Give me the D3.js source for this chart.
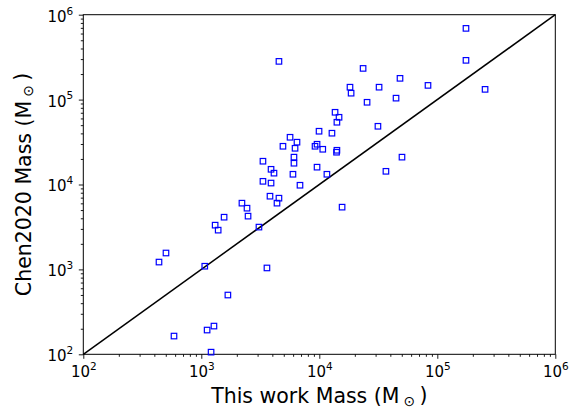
<!DOCTYPE html>
<html lang="en">
<head>
    <title>Chen2020 vs this work</title>
    <script src='https://d3js.org/d3.v7.min.js'></script>
    <style>
        body { margin: 0; background: #fff; }
        text { font-family: "DejaVu Sans", sans-serif; fill: #000; }
    </style>
</head>
<body>
    <script>
        var width = 578, height = 410;

        // masses (Msun): this work (x) and Chen2020 (y)
        var thisWorkMass = [
            4550, 175000, 175000, 254000, 23500, 48300, 83400, 18200, 18600, 32100,
            25400, 44700, 13600, 14700, 14100, 31400, 9950, 12800, 5650, 6470,
            4920, 6230, 9200, 9570, 10700, 14100, 14000, 6100, 6100, 9570,
            5980, 11600, 3330, 3900, 4130, 3330, 3900, 6860, 50200, 36700,
            3820, 4550, 4380, 15600, 2210, 2440, 2490, 1560, 1310, 1390,
            3080, 502, 438, 1070, 3600, 1680, 1280, 1120, 587, 1210
        ];
        var chen2020Mass = [
            282000, 690000, 290000, 132000, 233000, 178000, 147000, 140000, 119000, 140000,
            93000, 104000, 70900, 61900, 54100, 48500, 42400, 40200, 36000, 31500,
            28200, 26700, 28200, 29800, 26000, 25300, 24000, 21000, 17800, 16000,
            13200, 13200, 18800, 15100, 13600, 10900, 10400, 9800, 21000, 14300,
            7280, 6900, 6030, 5410, 6030, 5260, 4240, 4120, 3320, 2900,
            3150, 1560, 1220, 1090, 1040, 499, 215, 193, 164, 106
        ];
        var majorTicks = [1e2, 1e3, 1e4, 1e5, 1e6];
        var tickExponents = ["2", "3", "4", "5", "6"];

        var data = thisWorkMass.map(function(d, i) {
            return {x: d, y: chen2020Mass[i]};
        });

        var margin = {left: 83.3, right: 22.7, top: 14.7, bottom: 55.7};
        var plotW = width - margin.left - margin.right;
        var plotH = height - margin.top - margin.bottom;

        var svg = d3.select('body')
            .append('svg')
            .attr('width', width)
            .attr('height', height);

        var g = svg.append('g')
            .attr('transform', 'translate(' + margin.left + ',' + margin.top + ')');

        var x = d3.scaleLog().domain([1e2, 1e6]).range([0, plotW]);
        var y = d3.scaleLog().domain([1e2, 1e6]).range([plotH, 0]);

        // minor ticks 2..9 per decade
        var minorTicks = [];
        majorTicks.slice(0, -1).forEach(function(m) {
            for (var k = 2; k <= 9; k++) minorTicks.push(m * k);
        });

        function supLabels(sel) {
            sel.selectAll('.tick text').each(function(d, i) {
                var t = d3.select(this).text(null)
                    .style('font-size', '15px');
                t.append('tspan').text('10');
                t.append('tspan')
                    .attr('dy', '-0.68em')
                    .style('font-size', '10.5px')
                    .text(tickExponents[i]);
            });
        }

        // x axis
        g.append('g')
            .attr('transform', 'translate(0,' + plotH + ')')
            .call(d3.axisBottom(x).tickValues(minorTicks).tickSize(2.5).tickFormat(''))
            .call(function(a) { a.select('.domain').remove(); });
        var xAxis = g.append('g')
            .attr('transform', 'translate(0,' + plotH + ')')
            .call(d3.axisBottom(x).tickValues(majorTicks).tickSize(4.5).tickPadding(5));
        xAxis.select('.domain').remove();
        xAxis.selectAll('.tick text').attr('y', 22.4).attr('dy', null);
        supLabels(xAxis);

        // y axis
        g.append('g')
            .call(d3.axisLeft(y).tickValues(minorTicks).tickSize(2.5).tickFormat(''))
            .call(function(a) { a.select('.domain').remove(); });
        var yAxis = g.append('g')
            .call(d3.axisLeft(y).tickValues(majorTicks).tickSize(4.5).tickPadding(5.5));
        yAxis.select('.domain').remove();
        yAxis.selectAll('.tick text').attr('dy', '0.43em');
        supLabels(yAxis);

        g.selectAll('.tick line').attr('stroke', '#000').attr('stroke-width', 0.9);

        // frame
        g.append('rect')
            .attr('width', plotW)
            .attr('height', plotH)
            .attr('fill', 'none')
            .attr('stroke', '#000')
            .attr('stroke-width', 1);

        // 1:1 line
        g.append('line')
            .attr('x1', x(1e2)).attr('y1', y(1e2))
            .attr('x2', x(1e6)).attr('y2', y(1e6))
            .attr('stroke', '#000')
            .attr('stroke-width', 1.5);

        // points
        var s = 5.5;
        g.selectAll('rect.pt')
            .data(data)
            .join('rect')
            .attr('class', 'pt')
            .attr('x', function(d) { return x(d.x) - s / 2; })
            .attr('y', function(d) { return y(d.y) - s / 2; })
            .attr('width', s)
            .attr('height', s)
            .attr('fill', 'none')
            .attr('stroke', '#0000ff')
            .attr('stroke-width', 1.2);

        // axis labels, M with a sun subscript
        function massLabel(t, name) {
            t.append('tspan').text(name + ' Mass (M\u2009');
            t.append('tspan').attr('dy', '0.2em').style('font-size', '14px').text('\u2299');
            t.append('tspan').attr('dy', '-0.2em').text('\u2009)');
        }

        var xl = svg.append('text')
            .attr('x', margin.left + plotW / 2)
            .attr('y', 403)
            .attr('text-anchor', 'middle')
            .style('font-size', '20.5px');
        massLabel(xl, 'This work');

        var yl = svg.append('text')
            .attr('transform', 'translate(30.5,' + (margin.top + plotH / 2) + ') rotate(-90)')
            .attr('text-anchor', 'middle')
            .style('font-size', '20.5px');
        massLabel(yl, 'Chen2020');
    </script>
</body>
</html>
